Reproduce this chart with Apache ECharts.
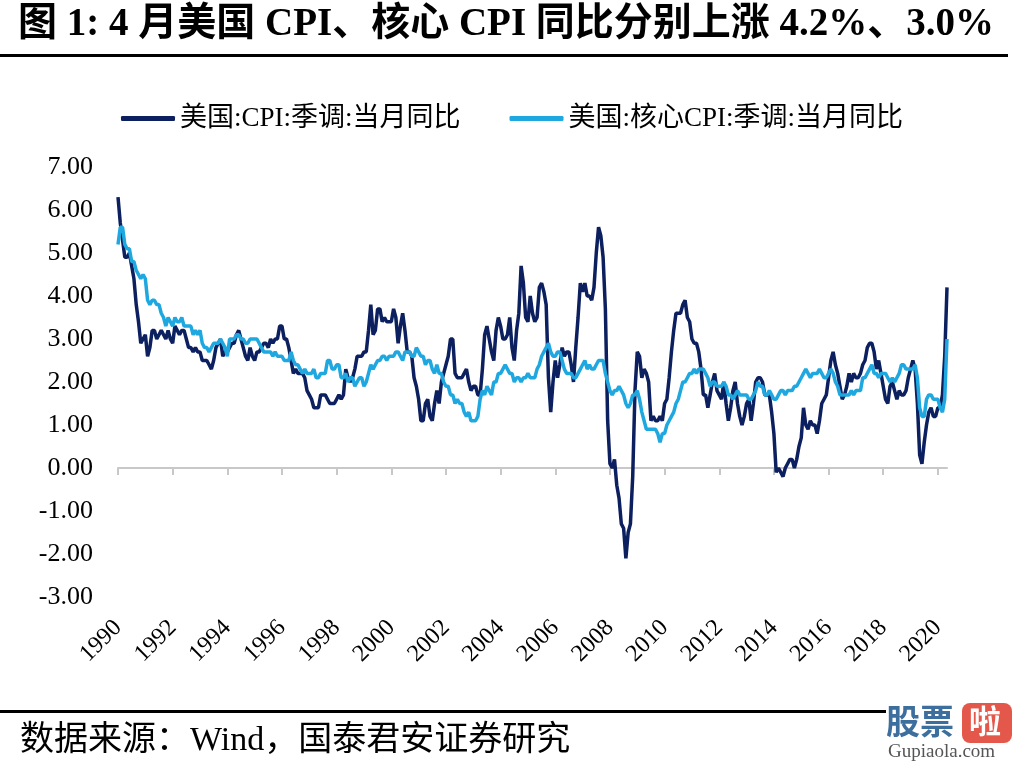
<!DOCTYPE html>
<html>
<head>
<meta charset="utf-8">
<script src="https://cdn.jsdelivr.net/npm/echarts@6/dist/echarts.min.js"></script>
<style>
html,body{margin:0;padding:0;background:#fff;}
#chart{width:1016px;height:766px;}
</style>
</head>
<body>
<div id="chart"></div>
<script>
// Monthly data, Dec 1990 – Apr 2021
const startYear = 1990, startMonth = 12;
const cpi = [
  6.3,
  5.7, 5.3, 4.9, 4.9, 5.0, 4.7, 4.4, 3.8, 3.4, 2.9, 3.0, 3.1,
  2.6, 2.8, 3.2, 3.2, 3.0, 3.1, 3.2, 3.1, 3.0, 3.2, 3.0, 2.9,
  3.3, 3.2, 3.1, 3.2, 3.2, 3.0, 2.8, 2.8, 2.7, 2.8, 2.7, 2.7,
  2.5, 2.5, 2.5, 2.4, 2.3, 2.5, 2.8, 2.9, 3.0, 2.6, 2.7, 2.7,
  2.8, 2.9, 2.9, 3.1, 3.2, 3.0, 2.8, 2.6, 2.5, 2.8, 2.6, 2.5,
  2.7, 2.7, 2.8, 2.9, 2.9, 2.8, 3.0, 2.9, 3.0, 3.0, 3.3, 3.3,
  3.0, 3.0, 2.8, 2.5, 2.2, 2.3, 2.2, 2.2, 2.2, 2.1, 1.8, 1.7,
  1.6, 1.4, 1.4, 1.4, 1.7, 1.7, 1.7, 1.6, 1.5, 1.5, 1.5, 1.6,
  1.7, 1.6, 1.7, 2.3, 2.1, 2.0, 2.1, 2.3, 2.6, 2.6, 2.6, 2.7,
  2.7, 3.2, 3.8, 3.1, 3.2, 3.7, 3.7, 3.4, 3.5, 3.4, 3.4, 3.4,
  3.7, 3.5, 2.9, 3.3, 3.6, 3.2, 2.7, 2.7, 2.6, 2.1, 1.9, 1.6,
  1.1, 1.1, 1.5, 1.6, 1.2, 1.1, 1.5, 1.8, 1.5, 2.0, 2.2, 2.4,
  2.6, 3.0, 3.0, 2.2, 2.1, 2.1, 2.1, 2.2, 2.3, 2.0, 1.8, 1.9,
  1.9, 1.7, 1.7, 2.3, 3.1, 3.3, 3.0, 2.7, 2.5, 3.2, 3.5, 3.3,
  3.0, 3.0, 3.1, 3.5, 2.8, 2.5, 3.2, 3.6, 4.7, 4.3, 3.5, 3.4,
  4.0, 3.6, 3.4, 3.5, 4.2, 4.3, 4.1, 3.8, 2.1, 1.3, 2.0, 2.5,
  2.1, 2.4, 2.8, 2.6, 2.7, 2.7, 2.4, 2.0, 2.8, 3.5, 4.3, 4.1,
  4.3, 4.0, 4.0, 3.9, 4.2, 5.0, 5.6, 5.4, 4.9, 3.7, 1.1, 0.1,
  0.0, 0.2, -0.4, -0.7, -1.3, -1.4, -2.1, -1.5, -1.3, -0.2, 1.8, 2.7,
  2.6, 2.1, 2.3, 2.2, 2.0, 1.1, 1.2, 1.1, 1.1, 1.2, 1.1, 1.5,
  1.6, 2.1, 2.7, 3.2, 3.6, 3.6, 3.6, 3.8, 3.9, 3.5, 3.4, 3.0,
  2.9, 2.9, 2.7, 2.3, 1.7, 1.7, 1.4, 1.7, 2.0, 2.2, 1.8, 1.7,
  1.6, 2.0, 1.5, 1.1, 1.4, 1.8, 2.0, 1.5, 1.2, 1.0, 1.2, 1.5,
  1.6, 1.1, 1.5, 2.0, 2.1, 2.1, 2.0, 1.7, 1.7, 1.7, 1.3, 0.8,
  -0.1, 0.0, -0.1, -0.2, 0.0, 0.1, 0.2, 0.2, 0.0, 0.2, 0.5, 0.7,
  1.4, 1.0, 0.9, 1.1, 1.0, 1.0, 0.8, 1.1, 1.5, 1.6, 1.7, 2.1,
  2.5, 2.7, 2.4, 2.2, 1.9, 1.6, 1.7, 1.9, 2.2, 2.0, 2.2, 2.1,
  2.1, 2.2, 2.4, 2.5, 2.8, 2.9, 2.9, 2.7, 2.3, 2.5, 2.2, 1.9,
  1.6, 1.5, 1.9, 2.0, 1.8, 1.6, 1.8, 1.7, 1.7, 1.8, 2.1, 2.3,
  2.5, 2.3, 1.5, 0.3, 0.1, 0.6, 1.0, 1.3, 1.4, 1.2, 1.2, 1.4,
  1.4, 1.7, 2.6, 4.2
];
const coreCpi = [
  5.2,
  5.6, 5.6, 5.2, 5.1, 5.1, 4.8, 4.8, 4.6, 4.5, 4.4, 4.5, 4.4,
  3.9, 3.8, 3.9, 3.9, 3.8, 3.8, 3.6, 3.5, 3.3, 3.5, 3.4, 3.3,
  3.5, 3.4, 3.4, 3.5, 3.3, 3.3, 3.3, 3.3, 3.1, 3.2, 3.1, 3.2,
  2.9, 2.8, 2.8, 2.7, 2.8, 2.9, 2.9, 2.9, 3.0, 2.9, 2.8, 2.6,
  3.0, 3.0, 3.0, 3.1, 3.1, 3.0, 3.0, 2.9, 2.9, 3.0, 3.0, 3.0,
  3.0, 2.9, 2.8, 2.7, 2.7, 2.7, 2.7, 2.6, 2.7, 2.6, 2.6, 2.6,
  2.5, 2.5, 2.5, 2.7, 2.5, 2.4, 2.4, 2.3, 2.2, 2.3, 2.2, 2.2,
  2.2, 2.3, 2.1, 2.1, 2.2, 2.2, 2.2, 2.5, 2.5, 2.3, 2.3, 2.4,
  2.4, 2.1, 2.1, 2.2, 2.0, 2.1, 2.1, 1.9, 2.0, 2.1, 2.1, 1.9,
  2.0, 2.2, 2.4, 2.3, 2.4, 2.5, 2.5, 2.6, 2.6, 2.5, 2.6, 2.6,
  2.6, 2.7, 2.7, 2.6, 2.5, 2.7, 2.7, 2.7, 2.6, 2.6, 2.8, 2.7,
  2.6, 2.6, 2.4, 2.5, 2.5, 2.3, 2.2, 2.4, 2.2, 2.2, 2.0, 1.9,
  1.9, 1.7, 1.7, 1.5, 1.6, 1.5, 1.5, 1.3, 1.2, 1.3, 1.1, 1.1,
  1.1, 1.2, 1.6, 1.8, 1.7, 1.9, 1.8, 1.7, 2.0, 2.0, 2.2, 2.2,
  2.3, 2.4, 2.3, 2.2, 2.2, 2.0, 2.1, 2.1, 2.0, 2.1, 2.1, 2.2,
  2.1, 2.1, 2.1, 2.3, 2.4, 2.6, 2.7, 2.8, 2.9, 2.7, 2.6, 2.6,
  2.7, 2.7, 2.5, 2.3, 2.2, 2.2, 2.2, 2.1, 2.1, 2.2, 2.3, 2.4,
  2.5, 2.3, 2.4, 2.3, 2.3, 2.4, 2.5, 2.5, 2.5, 2.2, 2.0, 1.8,
  1.7, 1.8, 1.8, 1.9, 1.8, 1.7, 1.5, 1.4, 1.5, 1.7, 1.7, 1.8,
  1.6, 1.3, 1.1, 0.9, 0.9, 0.9, 0.9, 0.9, 0.8, 0.6, 0.8, 0.8,
  1.0, 1.1, 1.2, 1.3, 1.5, 1.6, 1.8, 2.0, 2.0, 2.1, 2.2, 2.2,
  2.3, 2.2, 2.3, 2.3, 2.3, 2.2, 2.1, 1.9, 2.0, 2.0, 1.9, 1.9,
  1.9, 2.0, 1.9, 1.7, 1.7, 1.6, 1.7, 1.8, 1.7, 1.7, 1.7, 1.7,
  1.6, 1.6, 1.7, 1.8, 2.0, 1.9, 1.9, 1.7, 1.7, 1.8, 1.7, 1.6,
  1.6, 1.7, 1.8, 1.8, 1.7, 1.8, 1.8, 1.8, 1.9, 1.9, 2.0, 2.1,
  2.2, 2.3, 2.2, 2.1, 2.2, 2.2, 2.2, 2.3, 2.2, 2.1, 2.1, 2.2,
  2.3, 2.2, 2.0, 1.9, 1.7, 1.7, 1.7, 1.7, 1.7, 1.8, 1.7, 1.8,
  1.8, 1.8, 2.1, 2.1, 2.2, 2.3, 2.4, 2.2, 2.2, 2.1, 2.2, 2.2,
  2.2, 2.1, 2.0, 2.1, 2.0, 2.1, 2.2, 2.4, 2.4, 2.3, 2.3, 2.3,
  2.3, 2.4, 2.1, 1.4, 1.2, 1.2, 1.6, 1.7, 1.7, 1.6, 1.6, 1.6,
  1.4, 1.3, 1.6, 3.0
];
const seriesNames = ['美国:CPI:季调:当月同比', '美国:核心CPI:季调:当月同比'];
const titleText = '图 1: 4 月美国 CPI、核心 CPI 同比分别上涨 4.2%、3.0%';
const sourceText = '数据来源：Wind，国泰君安证券研究';

const categories = [];
for (let i = 0; i < cpi.length; i++) {
  const m0 = startMonth - 1 + i;
  const y = startYear + Math.floor(m0 / 12);
  const m = (m0 % 12) + 1;
  categories.push(y + '-' + (m < 10 ? '0' + m : m));
}

const FONT = '"Liberation Serif", "Times New Roman", "Noto Sans CJK SC", serif';
const chart = echarts.init(document.getElementById('chart'));
chart.setOption({
  animation: false,
  backgroundColor: '#ffffff',
  textStyle: { fontFamily: FONT, color: '#000' },
  legend: {
    data: seriesNames,
    left: 116,
    top: 100,
    itemWidth: 54,
    itemHeight: 5,
    itemGap: 49,
    icon: 'roundRect',
    textStyle: { fontFamily: FONT, fontSize: 27, color: '#000' }
  },
  grid: { left: 118, right: 69, top: 167, bottom: 169, containLabel: false },
  xAxis: [
    {
      type: 'category',
      data: categories,
      boundaryGap: false,
      position: 'bottom',
      axisLine: { show: false, onZero: false },
      axisTick: { show: false },
      axisLabel: {
        interval: 23,
        rotate: 45,
        margin: 27,
        fontFamily: FONT,
        fontSize: 24,
        color: '#000',
        formatter: v => v.slice(0, 4)
      },
      splitLine: { show: false }
    },
    {
      type: 'category',
      data: categories,
      boundaryGap: false,
      position: 'bottom',
      axisLine: { show: true, onZero: true, lineStyle: { color: '#c8c8c8', width: 2 } },
      axisTick: { show: true, interval: 23, length: 7, lineStyle: { color: '#c8c8c8', width: 2 } },
      axisLabel: { show: false },
      splitLine: { show: false }
    }
  ],
  yAxis: {
    type: 'value',
    min: -3,
    max: 7,
    interval: 1,
    axisLine: { show: false },
    axisTick: { show: false },
    splitLine: { show: false },
    axisLabel: {
      margin: 25,
      fontFamily: FONT,
      fontSize: 26,
      color: '#000',
      formatter: v => v.toFixed(2)
    }
  },
  series: [
    {
      name: seriesNames[0],
      type: 'line',
      data: cpi,
      showSymbol: false,
      color: '#0c1f5e',
      lineStyle: { width: 3.5, color: '#0c1f5e' }
    },
    {
      name: seriesNames[1],
      type: 'line',
      data: coreCpi,
      showSymbol: false,
      color: '#1fa8e0',
      lineStyle: { width: 3.5, color: '#1fa8e0' }
    }
  ],
  graphic: [
    { type: 'text', left: 18, top: 5, style: { text: titleText, font: 'bold 39px ' + FONT, fill: '#000' } },
    { type: 'rect', shape: { x: 0, y: 54, width: 1008, height: 3 }, style: { fill: '#000' } },
    { type: 'rect', shape: { x: 0, y: 710, width: 886, height: 3 }, style: { fill: '#000' } },
    { type: 'text', left: 20, top: 724, style: { text: sourceText, font: '34px ' + FONT, fill: '#000' } },
    { type: 'text', left: 886, top: 704, style: { text: '股票', font: 'bold 34px "Noto Sans CJK SC"', fill: '#3d6f9e' } },
    { type: 'rect', shape: { x: 962, y: 703, width: 50, height: 40, r: 8 }, style: { fill: '#e4584c' } },
    { type: 'text', left: 969, top: 705, style: { text: '啦', font: 'bold 32px "Noto Sans CJK SC"', fill: '#fff' } },
    { type: 'text', left: 888, top: 743, style: { text: 'Gupiaola.com', font: '19px "Liberation Serif"', fill: '#555' } }
  ]
});
</script>
</body>
</html>
